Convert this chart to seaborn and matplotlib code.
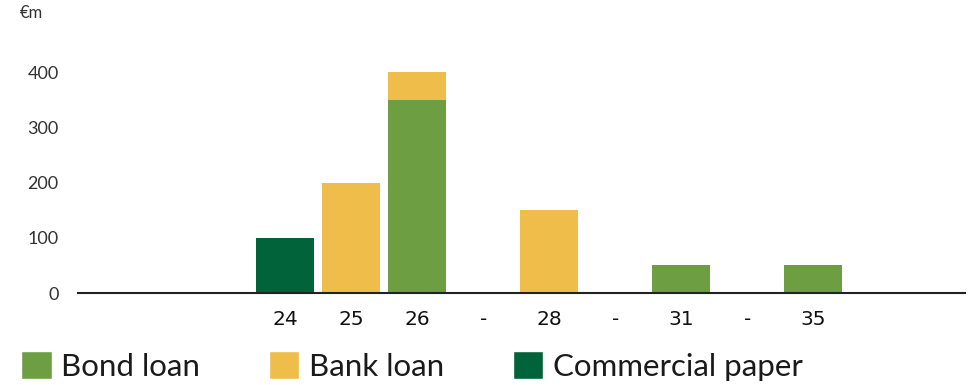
import matplotlib
matplotlib.use("Agg")
import matplotlib.pyplot as plt
from matplotlib.patches import Patch
import pandas as pd
import seaborn as sns

# Maturity profile, €m
years = ["24", "25", "26", "-", "28", "-", "31", "-", "35"]
bond_loan = [0, 0, 350, 0, 0, 0, 50, 0, 50]
bank_loan = [0, 200, 50, 0, 150, 0, 0, 0, 0]
commercial_paper = [100, 0, 0, 0, 0, 0, 0, 0, 0]
y_ticks = [0, 100, 200, 300, 400]

GREEN = "#6d9e42"
YELLOW = "#eebd4a"
DARK = "#00633a"

sns.set_style("white")
plt.rcParams["font.family"] = ["Lato", "DejaVu Sans"]

pos = list(range(len(years)))
df = pd.DataFrame({
    "pos": pos,
    "bond": bond_loan,
    "bank_top": [b + k for b, k in zip(bond_loan, bank_loan)],
    "cp": commercial_paper,
})

fig = plt.figure(figsize=(9.69, 3.85), dpi=100)
ax = fig.add_axes([78 / 969, (385 - 293) / 385, (965 - 78) / 969, (293 - 44.4) / 385])

w = 0.88
# Stacked: bank loan on top of bond loan
sns.barplot(data=df, x="pos", y="bank_top", order=pos, color=YELLOW, width=w,
            saturation=1, ax=ax, native_scale=True)
sns.barplot(data=df, x="pos", y="bond", order=pos, color=GREEN, width=w,
            saturation=1, ax=ax, native_scale=True)
sns.barplot(data=df, x="pos", y="cp", order=pos, color=DARK, width=w,
            saturation=1, ax=ax, native_scale=True)
for p in ax.patches:
    p.set_linewidth(0)

ax.set_xlim(-3.14, 10.3)
ax.set_ylim(0, 450)
ax.set_xticks(pos)
ax.set_xticklabels(years, fontsize=14.5, family="DejaVu Sans", color="#111111")
ax.set_yticks(y_ticks)
ax.set_yticklabels([str(t) for t in y_ticks], fontsize=13, color="#333333")
ax.tick_params(axis="x", length=0, pad=12)
ax.tick_params(axis="y", length=0, pad=14)
ax.set_xlabel("")
ax.set_ylabel("")
for s in ["top", "right", "left"]:
    ax.spines[s].set_visible(False)
ax.spines["bottom"].set_color("#222222")
ax.spines["bottom"].set_linewidth(1.5)

fig.text(20 / 969, 1 - 13 / 385, "€m", fontsize=12, color="#333333", va="center", ha="left")

handles = [Patch(facecolor=GREEN, label="Bond loan"),
           Patch(facecolor=YELLOW, label="Bank loan"),
           Patch(facecolor=DARK, label="Commercial paper")]
fig.legend(handles=handles, loc="lower left", bbox_to_anchor=(0.009, -0.022), ncol=3,
           frameon=False, handlelength=0.98, handleheight=0.98,
           handletextpad=0.3, columnspacing=2.2, borderaxespad=0,
           labelcolor="#1a1a1a",
           prop={"size": 22.5, "family": ["Lato", "DejaVu Sans"]})

fig.savefig("out.png", dpi=100)
